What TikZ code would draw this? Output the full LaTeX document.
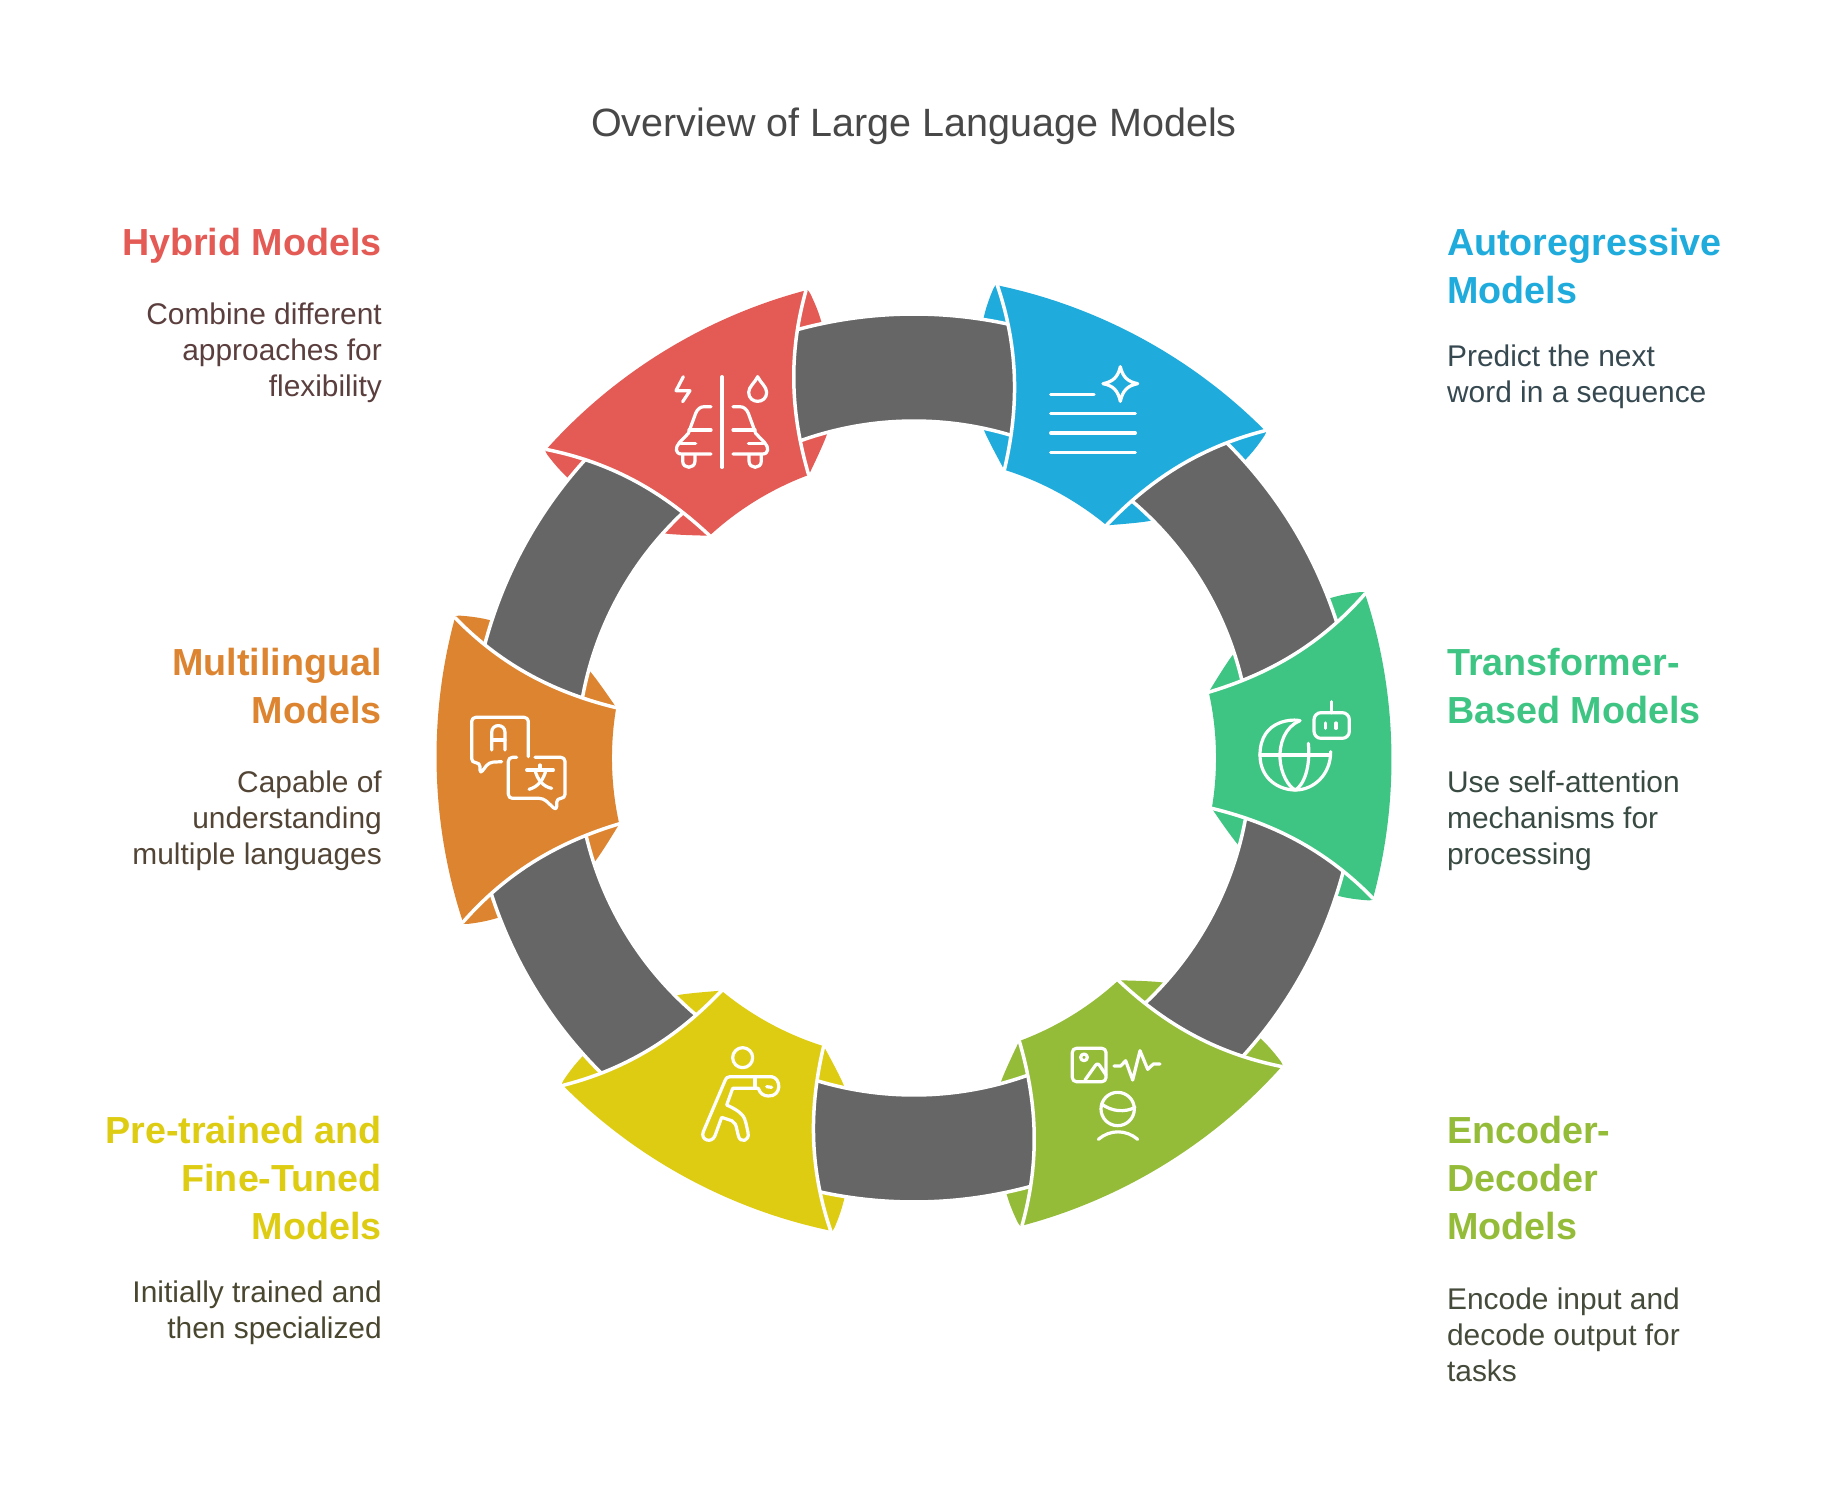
\documentclass[tikz,border=0pt]{standalone}
\usepackage{fontspec}
\setmainfont{Liberation Sans}
\definecolor{cblue}{HTML}{1FACDD}
\definecolor{cgreen}{HTML}{3EC583}
\definecolor{clime}{HTML}{94BC38}
\definecolor{cyellow}{HTML}{DECC13}
\definecolor{corange}{HTML}{DD8430}
\definecolor{cred}{HTML}{E45A55}
\definecolor{ringgray}{HTML}{666666}
\definecolor{titlecol}{HTML}{484848}
\definecolor{dred}{HTML}{5B3F3E}
\definecolor{dorange}{HTML}{524536}
\definecolor{dyellow}{HTML}{4A4730}
\definecolor{dblue}{HTML}{364850}
\definecolor{dgreen}{HTML}{384A42}
\definecolor{dlime}{HTML}{454B3A}
\newcommand\lenspiece[1]{\fill (#118.5:480) -- plot[smooth,tension=.6] coordinates {(#118.5:480) (#118.9:476) (#119.5:447) (#119.6:400) (#118.5:360) (#116.3:334) (#111.1:302)} -- (0:380) -- cycle;}
\newcommand\mainpiece{\fill (455.2,152.3) .. controls (484.9,53.4) and (484.9,-53.4) .. (455.2,-152.3) .. controls (407.7,-101) and (354.8,-74) .. (296.4,-58.1) arc[start angle=-11.1,end angle=11.1,radius=302] .. controls (354.8,74) and (407.7,101) .. (455.2,152.3) -- cycle;}
\newcommand\sideline[1]{\draw[white,line width=1.75pt,line cap=round] (455.2,#1152.3) .. controls (407.7,#1101) and (354.8,#174) .. (296.4,#158.1);}
\tikzset{
 iconline/.style={draw=white,line width=1.6pt,line cap=round,line join=round},
 headtext/.style={inner sep=0pt,yshift=16.8pt,font=\fontsize{18.85}{24}\selectfont\bfseries},
 desctext/.style={inner sep=0pt,yshift=12.6pt,font=\fontsize{14.95}{18}\selectfont},
}
\begin{document}
\begin{tikzpicture}[x=.5pt,y=-.5pt]
\useasboundingbox (0,0) rectangle (1828,1493);
\fill[white] (0,0) rectangle (1828,1493);
% lens corners
\foreach \ang/\col in {61.5/cblue,1.5/cgreen,-58.5/clime,-118.5/cyellow,181.5/corange,121.5/cred}{
 \begin{scope}[shift={(914,758)},x=.5pt,y=.5pt,rotate=\ang,color=\col]
  \lenspiece{}
  \lenspiece{-}
 \end{scope}}
% gray ring pieces (their ends lie under the coloured pieces)
\foreach \ang in {61.5,1.5,-58.5,-118.5,181.5,121.5}{
 \begin{scope}[shift={(914,758)},x=.5pt,y=.5pt,rotate=\ang]
  \filldraw[fill=ringgray,draw=white,line width=1.75pt] (5:444) arc[start angle=5,end angle=55,radius=444] -- (55:337) arc[start angle=55,end angle=5,radius=337] -- cycle;
 \end{scope}}
% main pieces
\foreach \ang/\col in {61.5/cblue,1.5/cgreen,-58.5/clime,-118.5/cyellow,181.5/corange,121.5/cred}{
 \begin{scope}[shift={(914,758)},x=.5pt,y=.5pt,rotate=\ang,color=\col]
  \mainpiece
  \sideline{}
  \sideline{-}
 \end{scope}}
% red icon
\begin{scope}[shift={(520,260)},x=.16667pt,y=-.16667pt,iconline]
 \draw (606,350) -- (606,622);
 \draw (490,350) -- (468,392) -- (510,392) -- (488,425);
 \draw (713,350) .. controls (705,368) and (686,380) .. (686,397) .. controls (686,433) and (740,433) .. (740,397) .. controls (740,380) and (721,368) .. (713,350) -- cycle;
 \draw (573,440) -- (553,440) .. controls (540,440) and (532,448) .. (527,460) -- (505,520) -- (478,548) .. controls (465,562) and (465,582) .. (485,582) -- (573,582);
 \draw (507,510) -- (573,510);
 \draw (482,551) -- (527,551);
 \draw (488,585) -- (488,603) .. controls (488,628) and (525,628) .. (525,603) -- (525,585);
 \draw (639,440) -- (659,440) .. controls (672,440) and (680,448) .. (685,460) -- (707,520) -- (734,548) .. controls (747,562) and (747,582) .. (727,582) -- (639,582);
 \draw (639,510) -- (705,510);
 \draw (730,551) -- (685,551);
 \draw (724,585) -- (724,603) .. controls (724,628) and (687,628) .. (687,603) -- (687,585);
\end{scope}
% blue icon
\begin{scope}[shift={(960,260)},x=.16667pt,y=-.16667pt,iconline]
 \draw (272,403) -- (402,403);
 \draw (272,461) -- (526,461);
 \draw (272,519) -- (526,519);
 \draw (272,577) -- (526,577);
 \draw (481,320) .. controls (488,350) and (502,365) .. (533,371) .. controls (502,377) and (488,392) .. (481,424) .. controls (474,392) and (460,377) .. (429,371) .. controls (460,365) and (474,350) .. (481,320) -- cycle;
\end{scope}
% green icon
\begin{scope}[shift={(1180,570)},x=.16667pt,y=-.16667pt,iconline]
 \draw (360,452) .. controls (345,447) and (240,445) .. (240,555) .. controls (240,625) and (295,660) .. (346,660) .. controls (400,660) and (452,615) .. (452,545);
 \draw (240,555) -- (445,555);
 \draw (360,452) .. controls (315,470) and (298,520) .. (300,565) .. controls (302,610) and (325,650) .. (346,660) .. controls (372,645) and (392,590) .. (385,520);
 \draw[rounded corners=3.5pt] (402,428) rectangle (508,505);
 \draw (455,395) -- (455,428);
 \draw (437,459) -- (437,475);
 \draw (468,459) -- (468,475);
\end{scope}
% lime icon
\begin{scope}[shift={(980,960)},x=.16667pt,y=-.16667pt,iconline]
 \draw[rounded corners=2pt] (277,265) rectangle (378,365);
 \draw (312,292) circle[radius=10];
 \draw (315,360) -- (345,318) .. controls (350,310) and (355,310) .. (360,318) -- (378,345);
 \draw (402,318) -- (422,318) -- (437,302) -- (458,360) -- (480,272) -- (503,328) -- (520,312) -- (540,312);
 \draw (413,447) circle[radius=50];
 \draw (365,432) .. controls (395,455) and (435,458) .. (465,442);
 \draw (355,538) .. controls (390,508) and (438,508) .. (473,538);
\end{scope}
% yellow icon
\begin{scope}[shift={(550,970)},x=.16667pt,y=-.16667pt,iconline]
 \draw (578,263) circle[radius=30];
 \draw (665,320) -- (540,320) .. controls (530,320) and (528,325) .. (525,332) -- (460,485) .. controls (450,510) and (485,522) .. (495,497) -- (515,442) -- (545,452) .. controls (555,456) and (558,465) .. (561,480) -- (565,497) .. controls (570,520) and (600,515) .. (594,487) -- (588,460) .. controls (584,440) and (575,425) .. (530,405) -- (548,355) -- (625,355);
 \draw (615,320) -- (615,355);
 \draw (665,320) .. controls (695,325) and (695,380) .. (655,378) .. controls (640,378) and (630,370) .. (625,355);
 \draw (650,350) -- (665,352);
\end{scope}
% orange icon
\begin{scope}[shift={(420,600)},x=.16667pt,y=-.16667pt,iconline]
 \draw[rounded corners=2pt] (245,485) -- (207,487) -- (180,522) -- (180,488) -- (155,488) -- (155,352) -- (325,352) -- (325,470);
 \draw (215,450) -- (215,397) .. controls (215,370) and (255,370) .. (255,397) -- (255,450);
 \draw (215,420) -- (255,420);
 \draw[rounded corners=2pt] (290,472) -- (265,472) -- (265,595) -- (370,595) -- (410,632) -- (410,595) -- (435,595) -- (435,472) -- (345,472);
 \draw (320,510) -- (400,510);
 \draw (360,495) -- (360,510);
 \draw (345,510) .. controls (352,540) and (370,560) .. (395,565);
 \draw (378,510) .. controls (370,540) and (355,560) .. (327,568);
\end{scope}
% texts
\node[inner sep=0pt,anchor=base,text=titlecol,font=\fontsize{19.75}{24}\selectfont] (title) at (914,137) {Overview of Large Language Models};
\node[headtext,anchor=north east,align=right,text=cred] (h1) at (382.2,255) {\strut Hybrid Models};
\node[desctext,anchor=north east,align=right,text=dred] (d1) at (382.2,324.5) {\strut Combine different\\approaches for\\flexibility};
\node[headtext,anchor=north east,align=right,text=corange] (h2) at (382.2,675) {\strut Multilingual\\Models};
\node[desctext,anchor=north east,align=right,text=dorange] (d2) at (382.2,792.5) {\strut Capable of\\understanding\\multiple languages};
\node[headtext,anchor=north east,align=right,text=cyellow] (h3) at (382.2,1143) {\strut Pre-trained and\\Fine-Tuned\\Models};
\node[desctext,anchor=north east,align=right,text=dyellow] (d3) at (382.2,1302.5) {\strut Initially trained and\\then specialized};
\node[headtext,anchor=north west,align=left,text=cblue] (h4) at (1446.7,255) {\strut Autoregressive\\Models};
\node[desctext,anchor=north west,align=left,text=dblue] (d4) at (1446.7,366.5) {\strut Predict the next\\word in a sequence};
\node[headtext,anchor=north west,align=left,text=cgreen] (h5) at (1446.7,675) {\strut Transformer-\\Based Models};
\node[desctext,anchor=north west,align=left,text=dgreen] (d5) at (1446.7,792.5) {\strut Use self-attention\\mechanisms for\\processing};
\node[headtext,anchor=north west,align=left,text=clime] (h6) at (1446.7,1143) {\strut Encoder-\\Decoder\\Models};
\node[desctext,anchor=north west,align=left,text=dlime] (d6) at (1446.7,1309.5) {\strut Encode input and\\decode output for\\tasks};
\end{tikzpicture}
\end{document}
